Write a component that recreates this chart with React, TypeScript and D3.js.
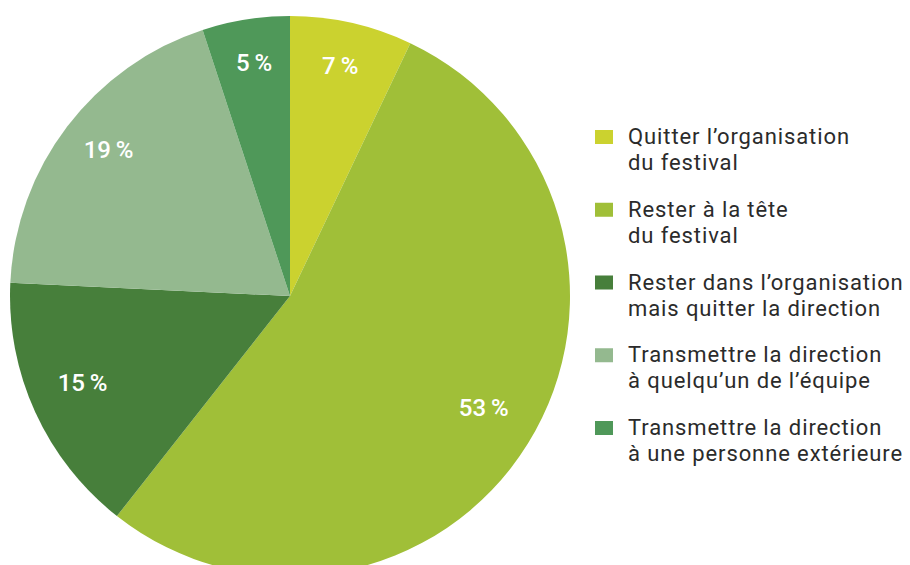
import React from "react";
import * as d3 from "d3";

// slices, clockwise from 12 o'clock
const categories = [
  ["Quitter l’organisation", "du festival"],
  ["Rester à la tête", "du festival"],
  ["Rester dans l’organisation", "mais quitter la direction"],
  ["Transmettre la direction", "à quelqu’un de l’équipe"],
  ["Transmettre la direction", "à une personne extérieure"],
];
const values = [7, 53, 15, 19, 5];
const colors = ["#cbd22f", "#a0bf38", "#477f3b", "#94b98f", "#4f9859"];

const App = () => {
  const width = 910;
  const height = 565;
  const cx = 290;
  const cy = 296;
  const radius = 280;

  const pie = d3.pie<number>().sort(null).value(d => d);
  const arcs = pie(values);

  const arc = d3.arc<d3.PieArcDatum<number>>().innerRadius(0).outerRadius(radius);
  // labels sit with their baseline on this radius
  const labelArc = d3.arc<d3.PieArcDatum<number>>().innerRadius(228).outerRadius(228);

  // legend layout
  const legendX = 595;
  const legendTop = 144; // baseline of first line
  const legendStep = 72.75;
  const lineGap = 26;

  return (
    <svg width={width} height={height} style={{ position: "absolute", left: 0, top: 0 }}>
      <rect width={width} height={height} fill="#fff" />
      <g transform={`translate(${cx},${cy})`}>
        {arcs.map((a, i) => (
          <path key={i} d={arc(a) || ""} fill={colors[i]} />
        ))}
        {arcs.map((a, i) => {
          const [x, y] = labelArc.centroid(a);
          return (
            <text
              key={"l" + i}
              x={x}
              y={y}
              textAnchor="middle"
              fill="#fff"
              fontFamily="Roboto, sans-serif"
              fontWeight={500}
              fontSize={24}
            >
              {values[i] + "\u2009%"}
            </text>
          );
        })}
      </g>
      <g fontFamily="Roboto, sans-serif" fontSize={22} letterSpacing={0.9} fill="#2b2b2b">
        {categories.map((lines, i) => {
          const y = legendTop + i * legendStep;
          return (
            <g key={"g" + i}>
              <rect x={legendX} y={y - 14} width={18} height={14} fill={colors[i]} />
              {lines.map((t, j) => (
                <text key={j} x={legendX + 33} y={y + j * lineGap}>
                  {t}
                </text>
              ))}
            </g>
          );
        })}
      </g>
    </svg>
  );
};

export default App;
